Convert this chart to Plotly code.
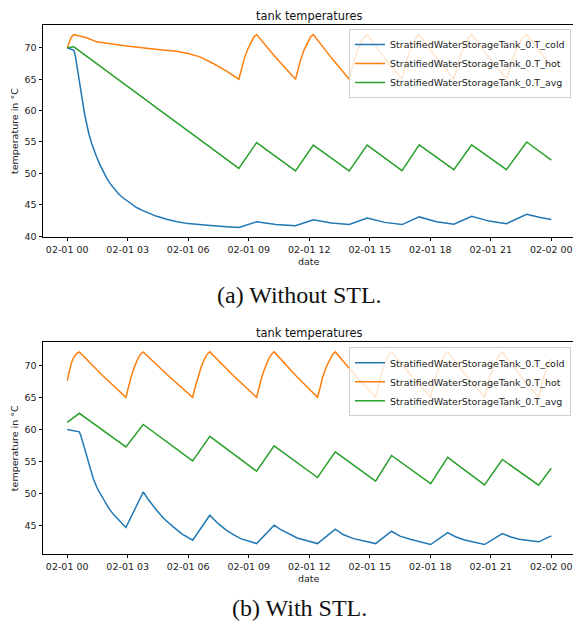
import pandas as pd
import plotly.graph_objects as go

W, H = 573, 623
BASE = pd.Timestamp("2023-02-01 00:00")

# ---------------- Panel (a): without STL ----------------
hot_a_h = [0.00, 0.10, 0.20, 0.33, 0.96, 1.46, 2.94, 4.60, 5.42, 6.00, 6.58, 7.24, 7.90, 8.51,
           8.62, 8.77, 8.95, 9.13, 9.26, 9.39, 10.35, 11.32,
           11.43, 11.58, 11.76, 11.94, 12.07, 12.20, 13.10, 13.98,
           14.09, 14.24, 14.42, 14.60, 14.74, 14.87, 15.74, 16.60,
           16.70, 16.85, 17.03, 17.20, 17.32, 17.45, 18.31, 19.17,
           19.28, 19.43, 19.61, 19.79, 19.92, 20.05, 20.92, 21.78,
           21.90, 22.08, 22.28, 22.48, 22.63, 22.78, 23.40, 24.00]
hot_a_v = [70.0, 71.0, 71.7, 72.1, 71.6, 70.95, 70.3, 69.7, 69.45, 69.1, 68.55, 67.5, 66.3, 65.0,
           66.3, 68.2, 69.8, 71.1, 71.75, 72.1, 68.4, 65.0,
           66.3, 68.2, 69.8, 71.1, 71.75, 72.1, 68.4, 65.0,
           66.3, 68.2, 69.8, 71.1, 71.75, 72.1, 68.4, 65.0,
           66.3, 68.2, 69.8, 71.1, 71.75, 72.1, 68.4, 65.0,
           66.3, 68.2, 69.8, 71.1, 71.75, 72.1, 68.4, 65.0,
           66.3, 68.2, 69.8, 71.1, 71.75, 72.1, 69.5, 67.1]

avg_a_h = [0.00, 0.33, 2.94, 8.51, 9.39, 11.32, 12.20, 13.98, 14.87, 16.60, 17.45,
           19.17, 20.05, 21.78, 22.78, 24.00]
avg_a_v = [70.0, 70.15, 63.98, 50.8, 54.9, 50.4, 54.5, 50.4, 54.5, 50.45, 54.55,
           50.6, 54.55, 50.6, 55.0, 52.1]

cold_a_h = [0.00, 0.33, 0.40, 0.47, 0.55, 0.63, 0.71, 0.79, 0.87, 0.96, 1.08, 1.21, 1.33,
            1.46, 1.62, 1.79, 1.95, 2.12, 2.32, 2.53, 2.73, 2.94, 3.20, 3.44, 3.70, 3.94,
            4.40, 4.93, 5.45, 6.00, 6.60, 7.24, 7.90, 8.51,
            9.39, 10.35, 11.32, 12.20, 13.10, 13.98, 14.87, 15.74,
            16.60, 17.45, 18.31, 19.17, 20.05, 20.92, 21.78, 22.78, 23.40, 24.00]
cold_a_v = [70.0, 69.6, 68.8, 67.5, 66.0, 64.3, 62.6, 60.9, 59.3, 57.9, 56.2, 54.8, 53.6,
            52.6, 51.4, 50.25, 49.3, 48.4, 47.55, 46.8, 46.2, 45.7, 45.1, 44.57, 44.15, 43.8,
            43.2, 42.7, 42.3, 42.0, 41.8, 41.65, 41.5, 41.4,
            42.3, 41.85, 41.65, 42.6, 42.1, 41.85, 42.9, 42.2,
            41.85, 43.07, 42.3, 41.9, 43.18, 42.4, 42.0, 43.5, 43.0, 42.65]

# ---------------- Panel (b): with STL ----------------
hot_b_h = [0.00, 0.10, 0.20, 0.30, 0.45, 0.60, 1.75, 2.91,
           3.01, 3.17, 3.34, 3.51, 3.64, 3.77, 5.00, 6.22,
           6.32, 6.48, 6.65, 6.82, 6.94, 7.07, 8.23, 9.39,
           9.49, 9.65, 9.83, 10.00, 10.13, 10.26, 11.33, 12.41,
           12.52, 12.67, 12.85, 13.03, 13.16, 13.29, 14.29, 15.29,
           15.38, 15.53, 15.69, 15.84, 15.96, 16.08, 17.05, 18.02,
           18.12, 18.27, 18.44, 18.61, 18.73, 18.86, 19.78, 20.69,
           20.80, 20.95, 21.13, 21.31, 21.44, 21.57, 22.47, 23.37,
           23.47, 23.63, 23.81, 24.00]
hot_b_v = [67.6, 69.2, 70.3, 71.1, 71.8, 72.1, 68.4, 65.0,
           66.3, 68.2, 69.8, 71.1, 71.75, 72.1, 68.4, 65.0,
           66.3, 68.2, 69.8, 71.1, 71.75, 72.1, 68.4, 65.0,
           66.3, 68.2, 69.8, 71.1, 71.75, 72.1, 68.4, 65.0,
           66.3, 68.2, 69.8, 71.1, 71.75, 72.1, 68.4, 65.0,
           66.3, 68.2, 69.8, 71.1, 71.75, 72.1, 68.4, 65.0,
           66.3, 68.2, 69.8, 71.1, 71.75, 72.1, 68.4, 65.0,
           66.3, 68.2, 69.8, 71.1, 71.75, 72.1, 68.4, 65.0,
           66.3, 68.2, 69.8, 71.0]

avg_b_h = [0.00, 0.60, 2.91, 3.77, 6.22, 7.07, 9.39, 10.26, 12.41, 13.29, 15.29, 16.08,
           18.02, 18.86, 20.69, 21.57, 23.37, 24.00]
avg_b_v = [61.07, 62.5, 57.25, 60.75, 55.06, 58.9, 53.45, 57.4, 52.46, 56.47, 51.9, 55.9,
           51.5, 55.6, 51.3, 55.28, 51.26, 53.9]

cold_b_h = [0.00, 0.60, 0.68, 0.77, 0.87, 0.96, 1.10, 1.29, 1.50, 1.79, 2.05, 2.29,
            2.60, 2.91, 3.77, 4.00, 4.43, 4.80, 5.26, 5.70, 6.22,
            7.07, 7.50, 7.90, 8.30, 8.60, 9.39, 10.26, 10.55, 11.00, 11.40, 12.41,
            13.29, 13.70, 14.20, 15.29, 16.08, 16.50, 17.00, 18.02, 18.86, 19.25, 19.70,
            20.69, 21.57, 22.00, 22.40, 23.37, 24.00]
cold_b_v = [59.97, 59.6, 59.0, 58.0, 56.9, 55.8, 54.1, 52.3, 50.7, 49.0, 47.7, 46.7,
            45.6, 44.64, 50.2, 49.1, 47.35, 46.0, 44.74, 43.6, 42.65,
            46.56, 45.2, 44.2, 43.4, 42.9, 42.13, 45.0, 44.4, 43.6, 43.0, 42.13,
            44.37, 43.5, 42.9, 42.13, 44.06, 43.3, 42.8, 41.98, 43.85, 43.2, 42.7,
            41.98, 43.7, 43.15, 42.8, 42.4, 43.33]

names = ["StratifiedWaterStorageTank_0.T_cold",
         "StratifiedWaterStorageTank_0.T_hot",
         "StratifiedWaterStorageTank_0.T_avg"]
colors = ["#1f77b4", "#ff7f0e", "#2ca02c"]
title_text = "tank temperatures"
ylabel = "temperature in °C"
xlabel = "date"
captions = ["(a) Without STL.", "(b) With STL."]
yticks_a = [40, 45, 50, 55, 60, 65, 70]
yticks_b = [45, 50, 55, 60, 65, 70]


def t(hours):
    return BASE + pd.to_timedelta(hours, unit="h")


fig = go.Figure()
panels = [
    ([(cold_a_h, cold_a_v), (hot_a_h, hot_a_v), (avg_a_h, avg_a_v)], "x", "y", "legend"),
    ([(cold_b_h, cold_b_v), (hot_b_h, hot_b_v), (avg_b_h, avg_b_v)], "x2", "y2", "legend2"),
]
for series, xa, ya, lg in panels:
    for (hh, vv), nm, c in zip(series, names, colors):
        fig.add_trace(go.Scatter(x=t(hh), y=vv, mode="lines", name=nm,
                                 line=dict(color=c, width=1.5),
                                 xaxis=xa, yaxis=ya, legend=lg))

FONT = "DejaVu Sans"
fs = 9.5

def px_x(p):
    return p / W

def px_y(p):
    return 1 - p / H

x_left = 43
xrange_ = [t(-1.2), t(25.2 - 2.5 / 20.17)]

ax_common = dict(type="date", tickformat="%m-%d %H", dtick=3 * 3600 * 1000,
                 tick0=BASE, range=xrange_, showgrid=False, zeroline=False,
                 showline=True, linecolor="black", linewidth=0.9, mirror=True,
                 ticks="outside", ticklen=3.5, tickwidth=0.9, tickcolor="black",
                 tickfont=dict(family=FONT, size=fs, color="#222222"),
                 automargin=False,
                 domain=[px_x(x_left), 1.0])
ay_common = dict(showgrid=False, zeroline=False, showline=True, linecolor="black",
                 linewidth=0.9, mirror=False, ticks="outside", ticklen=3.5,
                 tickwidth=0.9, tickcolor="black", automargin=False,
                 tickfont=dict(family=FONT, size=fs, color="#222222"))

top_a, bot_a = 25, 237
top_b, bot_b = 342.3, 554

leg_common = dict(xanchor="right", yanchor="top",
                  bgcolor="rgba(255,255,255,0.8)", bordercolor="#d0d0d0", borderwidth=1,
                  font=dict(family=FONT, size=fs, color="#222222"), itemwidth=30,
                  tracegroupgap=0)

fig.update_layout(
    width=W, height=H, margin=dict(l=0, r=0, t=0, b=0, autoexpand=False),
    paper_bgcolor="white", plot_bgcolor="white",
    font=dict(family=FONT, size=fs, color="#222222"),
    xaxis=dict(anchor="y", **ax_common),
    xaxis2=dict(anchor="y2", **ax_common),
    yaxis=dict(anchor="x", domain=[px_y(bot_a), px_y(top_a)], range=[39.87, 73.63],
               tickvals=yticks_a, **ay_common),
    yaxis2=dict(anchor="x2", domain=[px_y(bot_b), px_y(top_b)], range=[40.5, 73.6],
                tickvals=yticks_b, **ay_common),
    legend=dict(x=px_x(571), y=px_y(29), **leg_common),
    legend2=dict(x=px_x(571), y=px_y(347.3), **leg_common),
    showlegend=True,
)

mid_x = (x_left + 575.5) / 2
ann = []
for top, bot, date_y in [(top_a, bot_a, 261), (top_b, bot_b, 578)]:
    ann.append(dict(text=title_text, x=px_x(mid_x), y=px_y(top - 9), xref="paper", yref="paper",
                    xanchor="center", yanchor="middle", showarrow=False,
                    font=dict(family=FONT, size=11.4, color="#111111")))
    ann.append(dict(text=ylabel, x=px_x(14), y=px_y((top + bot) / 2), xref="paper", yref="paper",
                    xanchor="center", yanchor="middle", showarrow=False, textangle=-90,
                    font=dict(family=FONT, size=fs, color="#222222")))
    ann.append(dict(text=xlabel, x=px_x(mid_x), y=px_y(date_y), xref="paper", yref="paper",
                    xanchor="center", yanchor="middle", showarrow=False,
                    font=dict(family=FONT, size=fs, color="#222222")))
for cap, cy in zip(captions, [295, 608]):
    ann.append(dict(text=cap, x=px_x(299.5), y=px_y(cy), xref="paper", yref="paper",
                    xanchor="center", yanchor="middle", showarrow=False,
                    font=dict(family="Liberation Serif", size=24, color="#111111")))
fig.update_layout(annotations=ann)

fig.write_html("out.html", config={"displayModeBar": False},
               post_script="document.body.style.margin='0';document.body.style.padding='0';"
                           "document.body.style.overflow='hidden';")
